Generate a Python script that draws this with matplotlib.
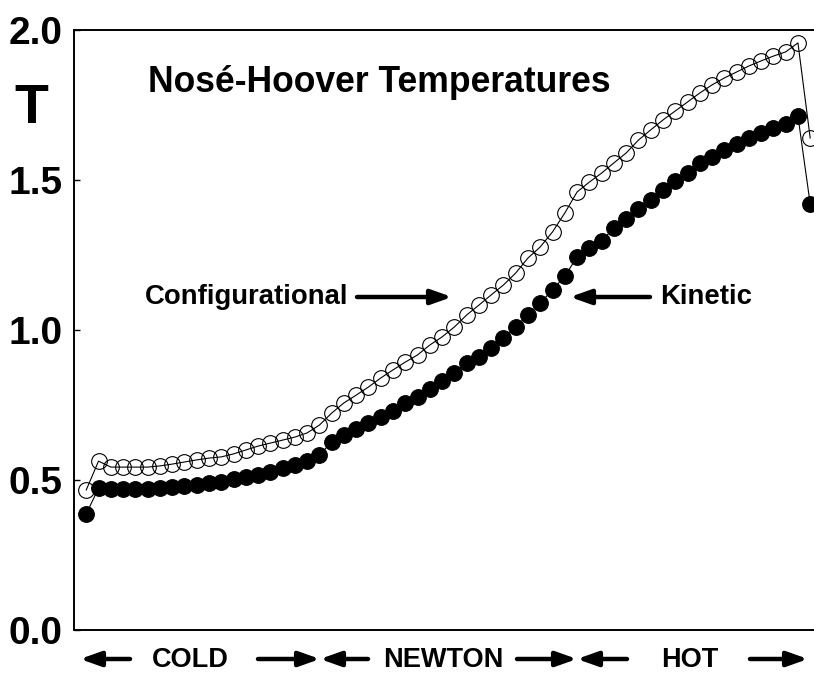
import matplotlib
matplotlib.use("Agg")
import matplotlib.pyplot as plt
import numpy as np

plt.rcParams['font.family'] = ['Liberation Sans', 'DejaVu Sans']
plt.rcParams['font.weight'] = 'bold'

# site index along the chain (cold reservoir -> Newtonian -> hot reservoir)
site = np.arange(1, 61)

t_config = [0.467, 0.563, 0.543, 0.543, 0.543, 0.543, 0.547, 0.553, 0.560, 0.567,
            0.573, 0.577, 0.587, 0.600, 0.613, 0.623, 0.633, 0.643, 0.657, 0.683,
            0.723, 0.757, 0.783, 0.810, 0.840, 0.867, 0.893, 0.917, 0.950, 0.977,
            1.010, 1.050, 1.083, 1.117, 1.150, 1.190, 1.240, 1.277, 1.327, 1.390,
            1.460, 1.493, 1.523, 1.557, 1.590, 1.633, 1.667, 1.700, 1.730, 1.760,
            1.790, 1.817, 1.840, 1.860, 1.880, 1.897, 1.913, 1.927, 1.957, 1.640]

t_kinetic = [0.387, 0.473, 0.470, 0.470, 0.470, 0.470, 0.473, 0.477, 0.480, 0.483,
             0.490, 0.493, 0.503, 0.510, 0.517, 0.527, 0.540, 0.550, 0.563, 0.583,
             0.627, 0.650, 0.670, 0.690, 0.710, 0.730, 0.757, 0.777, 0.803, 0.830,
             0.857, 0.890, 0.910, 0.940, 0.973, 1.010, 1.050, 1.090, 1.133, 1.180,
             1.243, 1.273, 1.297, 1.340, 1.370, 1.403, 1.433, 1.467, 1.497, 1.523,
             1.557, 1.577, 1.600, 1.620, 1.640, 1.657, 1.673, 1.687, 1.713, 1.420]

yticks = [0.0, 0.5, 1.0, 1.5, 2.0]

W, H = 814, 674
fig = plt.figure(figsize=(W / 100, H / 100), dpi=100)
# axes runs past the right edge of the figure, like the original
ax = fig.add_axes([74 / W, 44 / H, 61 * 12.27 / W, 600 / H])

ax.plot(site, t_config, '-o', color='black', lw=0.8, ms=11.3,
        mfc='none', mec='black', mew=0.8, clip_on=False)
ax.plot(site, t_kinetic, '-o', color='black', lw=0.8, ms=11.3,
        mfc='black', mec='black', mew=0.8, clip_on=False)

ax.set_xlim(0, 61)
ax.set_ylim(0, 2.0)
ax.set_xticks([])
ax.set_yticks(yticks)
ax.set_yticklabels(['%.1f' % v for v in yticks], fontsize=28, fontweight='bold')
ax.tick_params(axis='y', direction='in', length=4, width=1, pad=8.5)
for s in ['left', 'top', 'bottom']:
    ax.spines[s].set_linewidth(1.4)
ax.spines['right'].set_visible(False)

def fx(x):
    return x / W

def fy(y):
    return (H - y) / H

fig.text(fx(14), fy(109), 'T', fontsize=40, fontweight='bold', va='center', ha='left')
fig.text(fx(148), fy(82), 'Nosé-Hoover Temperatures', fontsize=25.6,
         fontweight='bold', va='center', ha='left')

fig.text(fx(145), fy(297), 'Configurational', fontsize=19.8, fontweight='bold',
         va='center', ha='left')
fig.text(fx(660), fy(297), 'Kinetic', fontsize=19.8, fontweight='bold',
         va='center', ha='left')

fig.text(fx(190), fy(660), 'COLD', fontsize=19.5, fontweight='bold', va='center', ha='center')
fig.text(fx(443), fy(660), 'NEWTON', fontsize=19.5, fontweight='bold', va='center', ha='center')
fig.text(fx(690), fy(660), 'HOT', fontsize=19.5, fontweight='bold', va='center', ha='center')

arrow_style = dict(arrowstyle='-|>,head_length=0.62,head_width=0.22', lw=3.2,
                   color='black', shrinkA=0, shrinkB=0, mutation_scale=20)

def arrow(x_tail, x_head, y):
    fig.add_artist(matplotlib.patches.FancyArrowPatch(
        (fx(x_tail), fy(y)), (fx(x_head), fy(y)), transform=fig.transFigure, **arrow_style))

arrow(357, 452, 297)
arrow(650, 570, 297)

arrow(130, 80, 659)
arrow(258, 320, 659)
arrow(368, 320, 659)
arrow(517, 577, 659)
arrow(627, 577, 659)
arrow(750, 808, 659)

fig.savefig('out.png', dpi=100)
